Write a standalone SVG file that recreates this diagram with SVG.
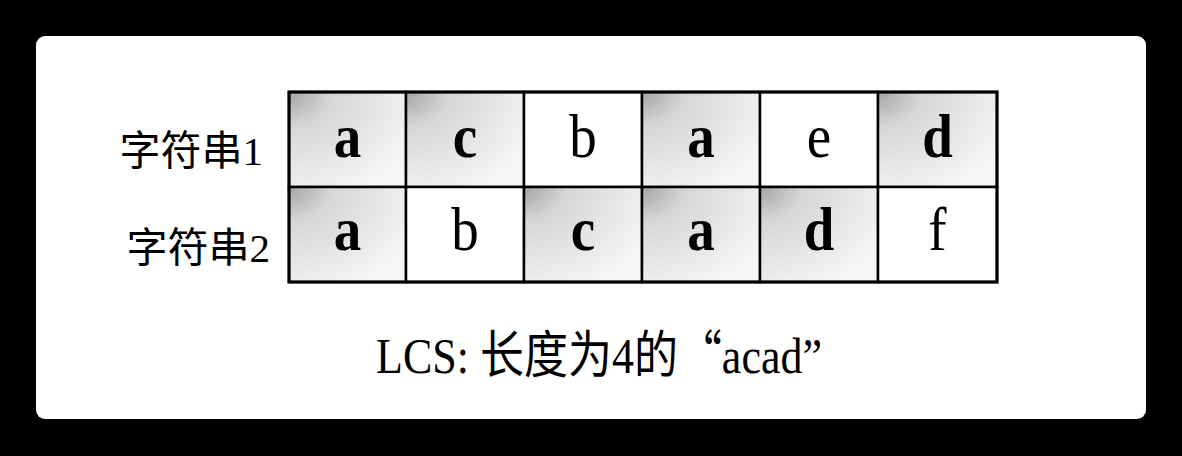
<svg xmlns="http://www.w3.org/2000/svg" width="1182" height="456" viewBox="0 0 1182 456">
<style>
.cell{stroke:#000;stroke-width:2.5}
.sh{fill:url(#g)}
.pl{fill:#fff}
.lt{font-family:"Liberation Serif",serif;font-size:55px;text-anchor:middle;fill:#000}
.b{font-weight:bold}
.lab{font-family:"Liberation Serif","Noto Sans CJK SC",serif;font-size:41px;fill:#000}
.cap{font-family:"Liberation Serif","Noto Sans CJK SC",serif;font-size:44px;fill:#000;text-anchor:middle}
</style>
<defs>
<radialGradient id="g" cx="0" cy="0" r="1.2" gradientUnits="objectBoundingBox">
<stop offset="0" stop-color="#a4a4a4"/>
<stop offset="0.3" stop-color="#d6d6d6"/>
<stop offset="0.65" stop-color="#e6e6e6"/>
<stop offset="1" stop-color="#f6f6f6"/>
</radialGradient>
</defs>
<rect x="0" y="0" width="1182" height="456" fill="#000"/>
<rect x="36" y="36" width="1110" height="383" rx="9" fill="#fff"/>
<g id="labels">
<text class="lab" x="263" y="165" text-anchor="end">字符串1</text>
<text class="lab" x="270" y="262" text-anchor="end">字符串2</text>
</g>
<g id="row1">
<g id="r1c1"><rect class="cell sh" x="289" y="92" width="117" height="95"/><text class="lt b" transform="translate(347.5,157) scale(1,1.13)">a</text></g>
<g id="r1c2"><rect class="cell sh" x="406" y="92" width="118" height="95"/><text class="lt b" transform="translate(465,157) scale(1,1.13)">c</text></g>
<g id="r1c3"><rect class="cell pl" x="524" y="92" width="118" height="95"/><text class="lt" transform="translate(583,157) scale(1,1.13)">b</text></g>
<g id="r1c4"><rect class="cell sh" x="642" y="92" width="118" height="95"/><text class="lt b" transform="translate(701,157) scale(1,1.13)">a</text></g>
<g id="r1c5"><rect class="cell pl" x="760" y="92" width="118" height="95"/><text class="lt" transform="translate(819,157) scale(1,1.13)">e</text></g>
<g id="r1c6"><rect class="cell sh" x="878" y="92" width="119" height="95"/><text class="lt b" transform="translate(937.5,157) scale(1,1.13)">d</text></g>
</g>
<g id="row2">
<g id="r2c1"><rect class="cell sh" x="289" y="187" width="117" height="95"/><text class="lt b" transform="translate(347.5,250) scale(1,1.13)">a</text></g>
<g id="r2c2"><rect class="cell pl" x="406" y="187" width="118" height="95"/><text class="lt" transform="translate(465,250) scale(1,1.13)">b</text></g>
<g id="r2c3"><rect class="cell sh" x="524" y="187" width="118" height="95"/><text class="lt b" transform="translate(583,250) scale(1,1.13)">c</text></g>
<g id="r2c4"><rect class="cell sh" x="642" y="187" width="118" height="95"/><text class="lt b" transform="translate(701,250) scale(1,1.13)">a</text></g>
<g id="r2c5"><rect class="cell sh" x="760" y="187" width="118" height="95"/><text class="lt b" transform="translate(819,250) scale(1,1.13)">d</text></g>
<g id="r2c6"><rect class="cell pl" x="878" y="187" width="119" height="95"/><text class="lt" transform="translate(937.5,250) scale(1,1.13)">f</text></g>
</g>
<rect x="289" y="92" width="708" height="190" fill="none" stroke="#000" stroke-width="3"/>
<g id="caption">
<text class="cap" transform="translate(599,373) scale(1,1.15)">LCS: 长度为4的<tspan font-family="'Noto Sans CJK SC',sans-serif">“</tspan>acad”</text>
</g>
</svg>
